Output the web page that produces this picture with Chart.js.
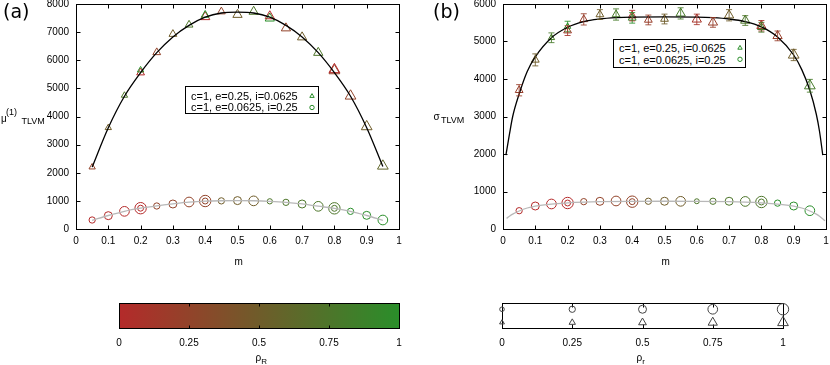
<!DOCTYPE html>
<html><head><meta charset="utf-8">
<script src="https://cdn.jsdelivr.net/npm/chart.js@4/dist/chart.umd.min.js"></script>
<style>
html,body{margin:0;padding:0;background:#fff;overflow:hidden;width:830px;height:365px;position:relative;}
.box{position:absolute;}
.t{position:absolute;font-family:"Liberation Sans",Arial,sans-serif;color:#000;white-space:nowrap;line-height:1;}
.leg{position:absolute;border:1px solid #000;box-sizing:border-box;background:#fff;}
</style></head><body>

<div class="box" style="left:0;top:-20px;width:430px;height:310px"><canvas id="ca" width="430" height="310"></canvas></div>
<div class="box" style="left:420px;top:-20px;width:430px;height:310px"><canvas id="cb" width="430" height="310"></canvas></div>
<div class="box" style="left:100px;top:280px;width:320px;height:85px"><canvas id="cc" width="320" height="85"></canvas></div>
<div class="box" style="left:480px;top:280px;width:330px;height:85px"><canvas id="cd" width="330" height="85"></canvas></div>

<div class="t" style="left:3px;top:2px;font-family:'DejaVu Sans';font-size:19px">(a)</div>
<div class="t" style="left:433px;top:2px;font-family:'DejaVu Sans';font-size:19px">(b)</div>

<div class="t" style="left:1px;top:113.5px;font-size:10px">μ</div>
<div class="t" style="left:6px;top:108.4px;font-size:9px">(1)</div>
<div class="t" style="left:21.5px;top:116.8px;font-size:9px">TLVM</div>

<div class="t" style="left:433.5px;top:112.2px;font-size:10px">σ</div>
<div class="t" style="left:441px;top:116.4px;font-size:9px">TLVM</div>

<div class="t" style="left:234.5px;top:257px;font-size:10px">m</div>
<div class="t" style="left:661.5px;top:257px;font-size:10px">m</div>

<div class="t" style="left:255.5px;top:353px;font-size:10px">ρ<span style="font-size:8px;position:relative;top:2.5px">R</span></div>
<div class="t" style="left:636.5px;top:353px;font-size:10px">ρ<span style="font-size:8px;position:relative;top:2.5px">r</span></div>

<div class="leg" style="left:185px;top:86px;width:134px;height:28px">
  <div class="t" style="left:5px;top:3.8px;font-size:11px">c=1, e=0.25, i=0.0625</div>
  <div class="t" style="left:5px;top:15.2px;font-size:11px">c=1, e=0.0625, i=0.25</div>
  <svg style="position:absolute;left:120px;top:3px" width="12" height="22"><polygon points="6,3.6 8.2,7.4 3.8,7.4" fill="none" stroke="rgb(42,142,42)" stroke-width="1"/><circle cx="6" cy="17.5" r="2.2" fill="none" stroke="rgb(42,142,42)" stroke-width="1"/></svg>
</div>
<div class="leg" style="left:613px;top:39px;width:133px;height:29px">
  <div class="t" style="left:5px;top:2.8px;font-size:11px">c=1, e=0.25, i=0.0625</div>
  <div class="t" style="left:5px;top:14.8px;font-size:11px">c=1, e=0.0625, i=0.25</div>
  <svg style="position:absolute;left:120px;top:2px" width="12" height="24"><polygon points="6,3.4 8.2,7.2 3.8,7.2" fill="none" stroke="rgb(42,142,42)" stroke-width="1"/><circle cx="6" cy="17.3" r="2.2" fill="none" stroke="rgb(42,142,42)" stroke-width="1"/></svg>
</div>

<script>
// ---------- data ----------
const mGrid = [0.05,0.1,0.15,0.2,0.25,0.3,0.35,0.4,0.45,0.5,0.55,0.6,0.65,0.7,0.75,0.8,0.85,0.9,0.95];
const xTickVals = [0,0.1,0.2,0.3,0.4,0.5,0.6,0.7,0.8,0.9,1];
const xTickLabels = ['0','0.1','0.2','0.3','0.4','0.5','0.6','0.7','0.8','0.9','1'];
const yTickValsA = [0,1000,2000,3000,4000,5000,6000,7000,8000];
const yTickLabelsA = ['0','1000','2000','3000','4000','5000','6000','7000','8000'];
const yTickValsB = [0,1000,2000,3000,4000,5000,6000];
const yTickLabelsB = ['0','1000','2000','3000','4000','5000','6000'];
const rhoTickVals = [0,0.25,0.5,0.75,1];
const rhoTickLabels = ['0','0.25','0.5','0.75','1'];

// panel (a): mu^(1)_TLVM
const muTri      = [2200,3600,4750,5650,6280,6930,7260,7610,7730,7620,7730,7570,7140,6820,6270,5670,4730,3640,2240];
const muTriRhoR  = [0.25,0.5,0.75,1,0.25,0.5,0.75,1,0.25,0.5,0.75,0,0.25,0.5,0.75,0,0.25,0.5,0.6];
const muTriRhor  = [0.25,0.25,0.25,0.25,0.5,0.5,0.5,0.5,0.5,0.75,0.75,0.75,0.75,0.75,0.75,1,1,1,1];
const muTriXM    = [0.2,0.4,0.6,0.8];
const muTriX     = [5560,7540,7490,5630];
const muTriXRhoR = [0,0,1,0.25];
const muTriXRhor = [0.5,0.75,0.75,1];
const muCirc     = [320,474,628,740,818,889,960,995,1000,1010,1000,984,948,889,806,735,628,486,320];
const muCircRhoR = [0,0,0,0,0.25,0.25,0.25,0.25,0.5,0.5,0.5,0.75,0.75,0.75,0.75,0.75,1,1,1];
const muCircRhor = [0.25,0.5,0.75,1,0.25,0.5,0.75,1,0.25,0.5,0.75,0.1,0.25,0.5,0.75,1,0.25,0.5,0.75];
const muCircXM   = [0.2,0.4,0.8];
const muCircX    = [740,995,735];
const muCircXRhoR= [0,0.25,0.75];
const muCircXRhor= [0.2,0.2,0.2];
const muFitTri   = [2200,3600,4720,5560,6270,6830,7240,7530,7680,7710,7680,7530,7240,6830,6270,5560,4720,3600,2220];
const muFitCirc  = [310,480,630,740,825,895,955,990,1005,1010,1005,985,950,890,810,735,630,480,310];

// panel (b): sigma_TLVM
const sigTri      = [3700,4510,5100,5400,5590,5720,5720,5690,5575,5600,5750,5590,5510,5700,5560,5420,5150,4640,3820];
const sigTriErr   = [150,160,130,140,150,130,150,140,130,130,150,140,130,150,130,140,130,150,170];
const sigTriRhoR  = [0.2,0.5,0.8,1,0.2,0.5,0.8,0,0.2,0.5,0.8,0.1,0.2,0.5,0.75,0.1,0.2,0.5,0.8];
const sigTriRhor  = [0.5,0.5,0.25,0.25,0.5,0.5,0.5,0.5,0.5,0.5,0.75,0.75,0.75,0.75,0.75,0.75,0.75,1,1];
const sigTriXM    = [0.2,0.4,0.8];
const sigTriX     = [5290,5630,5380];
const sigTriXErr  = [130,140,130];
const sigTriXRhoR = [0.1,1,0.8];
const sigTriXRhor = [0.5,0.5,0.5];
const sigCirc     = [488,613,667,693,729,738,747,729,740,740,738,740,740,740,735,720,690,613,488];
const sigCircRhoR = [0,0,0,0,0.25,0.25,0.25,0.25,0.5,0.5,0.5,0.75,0.75,0.75,0.75,0.75,1,1,1];
const sigCircRhor = [0.25,0.5,0.75,1,0.25,0.5,0.75,1,0.25,0.5,0.75,0.05,0.25,0.5,0.75,1,0.25,0.5,0.75];
const sigCircXM   = [0.2,0.4,0.8];
const sigCircX    = [693,729,720];
const sigCircXRhoR= [0,0.25,0.75];
const sigCircXRhor= [0.2,0.2,0.2];
const sigFitTriM  = [0.009,0.02,0.03,0.05,0.075,0.1,0.15,0.2,0.25,0.3,0.35,0.4,0.5,0.6,0.65,0.7,0.75,0.8,0.85,0.9,0.925,0.95,0.97,0.98,0.99];
const sigFitTri   = [1970,2530,3000,3600,4200,4590,5100,5380,5530,5600,5635,5650,5655,5650,5635,5600,5530,5390,5120,4640,4250,3700,3060,2600,1970];
const sigFitCircM = [0.011,0.02,0.03,0.05,0.075,0.1,0.15,0.2,0.25,0.3,0.4,0.5,0.6,0.7,0.75,0.8,0.85,0.9,0.925,0.95,0.97,0.98,0.997];
const sigFitCirc  = [284,340,395,480,560,610,665,695,715,728,738,740,738,728,715,695,665,610,560,480,395,340,222];

// size key (bottom right)
const sizeKey = [0,0.25,0.5,0.75,1];

// ---------- helpers ----------
const F = '"Liberation Sans", Arial, sans-serif';
function colR(r){const a=[180,42,42],b=[42,142,42];return 'rgb('+a.map((v,i)=>Math.round(v+(b[i]-v)*r)).join(',')+')';}
function rCirc(s){return 2.3+3.4*s;}
function rTri(s){return 2.8+3.4*s;}
function pts(ms, ys){return ms.map((m,i)=>({x:m,y:ys[i]}));}
function markSet(ms, ys, rR, rr, style, errs){
  return {data:pts(ms,ys), pointStyle:style, pointRadius:rr.map(style==='circle'?rCirc:rTri),
    pointBorderColor:rR.map(colR), pointBackgroundColor:'rgba(0,0,0,0)', pointBorderWidth:1,
    showLine:false, errorBars:errs, clip:false};
}
function curveSet(ms, ys, color){
  return {data:pts(ms,ys), showLine:true, borderColor:color, borderWidth:1.3, pointRadius:0,
    cubicInterpolationMode:'monotone', fill:false, clip:false};
}

const framePlugin = {
  id:'frame',
  afterDraw(chart){
    const {ctx, chartArea:a, scales} = chart;
    ctx.save();
    ctx.strokeStyle='#000'; ctx.lineWidth=1;
    ctx.beginPath();
    const L=Math.round(a.left)+0.5, R=Math.round(a.right)+0.5, T=Math.round(a.top)+0.5, B=Math.round(a.bottom)+0.5;
    scales.x.ticks.forEach(t=>{const x=Math.round(scales.x.getPixelForValue(t.value))+0.5;
      ctx.moveTo(x,B); ctx.lineTo(x,B-4); ctx.moveTo(x,T); ctx.lineTo(x,T+4);});
    scales.y.ticks.forEach(t=>{const y=Math.round(scales.y.getPixelForValue(t.value))+0.5;
      ctx.moveTo(L,y); ctx.lineTo(L+4,y); ctx.moveTo(R,y); ctx.lineTo(R-4,y);});
    ctx.stroke();
    ctx.strokeRect(L,T,R-L,B-T);
    ctx.restore();
  }
};
const errPlugin = {
  id:'errs',
  afterDatasetsDraw(chart){
    const {ctx, scales} = chart;
    ctx.save(); ctx.lineWidth=1;
    chart.data.datasets.forEach(ds=>{
      if(!ds.errorBars) return;
      ds.data.forEach((p,j)=>{
        const e=ds.errorBars[j];
        const x=scales.x.getPixelForValue(p.x);
        const y1=scales.y.getPixelForValue(p.y-e), y2=scales.y.getPixelForValue(p.y+e);
        ctx.strokeStyle=ds.pointBorderColor[j]; ctx.globalAlpha=0.85;
        ctx.beginPath();
        ctx.moveTo(x,y1); ctx.lineTo(x,y2);
        ctx.moveTo(x-3,y1); ctx.lineTo(x+3,y1);
        ctx.moveTo(x-3,y2); ctx.lineTo(x+3,y2);
        ctx.stroke();
      });
    });
    ctx.restore();
  }
};

function panel(id, padL, padR, ymax, yVals, yLabels, datasets){
  return new Chart(document.getElementById(id), {
    type:'scatter',
    data:{datasets},
    options:{
      responsive:false, animation:false, events:[],
      layout:{padding:{left:padL, right:padR, top:24, bottom:31}},
      plugins:{legend:{display:false}, tooltip:{enabled:false}},
      scales:{
        x:{type:'linear', min:0, max:1,
           afterBuildTicks:s=>{s.ticks=xTickVals.map(v=>({value:v}));},
           ticks:{autoSkip:false, maxRotation:0, padding:6, color:'#000', font:{family:F,size:10}, callback:(v,i)=>xTickLabels[i]},
           grid:{display:false, drawTicks:false}, border:{display:false},
           afterFit:s=>{s.height=30;}},
        y:{type:'linear', min:0, max:ymax,
           afterBuildTicks:s=>{s.ticks=yVals.map(v=>({value:v}));},
           ticks:{autoSkip:false, padding:7, color:'#000', font:{family:F,size:10}, callback:(v,i)=>yLabels[i]},
           grid:{display:false, drawTicks:false}, border:{display:false},
           afterFit:s=>{s.width=40;}}
      }
    },
    plugins:[framePlugin, errPlugin]
  });
}

// panel (a)
panel('ca', 36, 31, 8000, yTickValsA, yTickLabelsA, [
  curveSet(mGrid, muFitTri, '#000'),
  curveSet(mGrid, muFitCirc, '#b8b8b8'),
  markSet(mGrid, muTri, muTriRhoR, muTriRhor, 'triangle'),
  markSet(muTriXM, muTriX, muTriXRhoR, muTriXRhor, 'triangle'),
  markSet(mGrid, muCirc, muCircRhoR, muCircRhor, 'circle'),
  markSet(muCircXM, muCircX, muCircXRhoR, muCircXRhor, 'circle')
]);

// panel (b)
panel('cb', 43, 24, 6000, yTickValsB, yTickLabelsB, [
  curveSet(sigFitTriM, sigFitTri, '#000'),
  curveSet(sigFitCircM, sigFitCirc, '#b8b8b8'),
  markSet(mGrid, sigTri, sigTriRhoR, sigTriRhor, 'triangle', sigTriErr),
  markSet(sigTriXM, sigTriX, sigTriXRhoR, sigTriXRhor, 'triangle', sigTriXErr),
  markSet(mGrid, sigCirc, sigCircRhoR, sigCircRhor, 'circle'),
  markSet(sigCircXM, sigCircX, sigCircXRhoR, sigCircXRhor, 'circle')
]);

// key charts
function keyChart(id, padL, padR, datasets, bgPlugin){
  return new Chart(document.getElementById(id), {
    type:'scatter',
    data:{datasets},
    options:{
      responsive:false, animation:false, events:[],
      layout:{padding:{left:padL, right:padR, top:23, bottom:17}},
      plugins:{legend:{display:false}, tooltip:{enabled:false}},
      scales:{
        x:{type:'linear', min:0, max:1,
           afterBuildTicks:s=>{s.ticks=rhoTickVals.map(v=>({value:v}));},
           ticks:{autoSkip:false, maxRotation:0, padding:9, color:'#000', font:{family:F,size:10}, callback:(v,i)=>rhoTickLabels[i]},
           grid:{display:false, drawTicks:false}, border:{display:false},
           afterFit:s=>{s.height=20;}},
        y:{type:'linear', min:0, max:1, display:false}
      }
    },
    plugins:[bgPlugin]
  });
}
function keyFrame(chart, len){
  const {ctx, chartArea:a, scales} = chart;
  ctx.save(); ctx.strokeStyle='#000'; ctx.lineWidth=1;
  const L=Math.round(a.left)+0.5, R=Math.round(a.right)+0.5, T=Math.round(a.top)+0.5, B=Math.round(a.bottom)+0.5;
  ctx.beginPath();
  scales.x.ticks.forEach(t=>{const x=Math.round(scales.x.getPixelForValue(t.value))+0.5;
    ctx.moveTo(x,T); ctx.lineTo(x,T+len); ctx.moveTo(x,B); ctx.lineTo(x,B-len);});
  ctx.stroke();
  ctx.strokeRect(L,T,R-L,B-T);
  ctx.restore();
}
keyChart('cc', 19, 21, [], {
  id:'cbar',
  beforeDatasetsDraw(chart){
    const {ctx, chartArea:a} = chart;
    const g = ctx.createLinearGradient(a.left,0,a.right,0);
    rhoTickVals.forEach(v=>g.addColorStop(v, colR(v)));
    ctx.save(); ctx.fillStyle=g; ctx.fillRect(a.left,a.top,a.right-a.left,a.bottom-a.top); ctx.restore();
  },
  afterDraw(chart){ keyFrame(chart, 3); }
});
keyChart('cd', 22, 27, [
  {data:sizeKey.map(s=>({x:s,y:0.75})), pointStyle:'circle', pointRadius:sizeKey.map(rCirc), pointBorderColor:'#444', pointBackgroundColor:'rgba(0,0,0,0)', pointBorderWidth:1, showLine:false, clip:false},
  {data:sizeKey.map(s=>({x:s,y:0.22})), pointStyle:'triangle', pointRadius:sizeKey.map(rTri), pointBorderColor:'#444', pointBackgroundColor:'rgba(0,0,0,0)', pointBorderWidth:1, showLine:false, clip:false}
], {
  id:'skey',
  beforeDatasetsDraw(chart){ keyFrame(chart, 4); }
});
</script>
</body></html>
